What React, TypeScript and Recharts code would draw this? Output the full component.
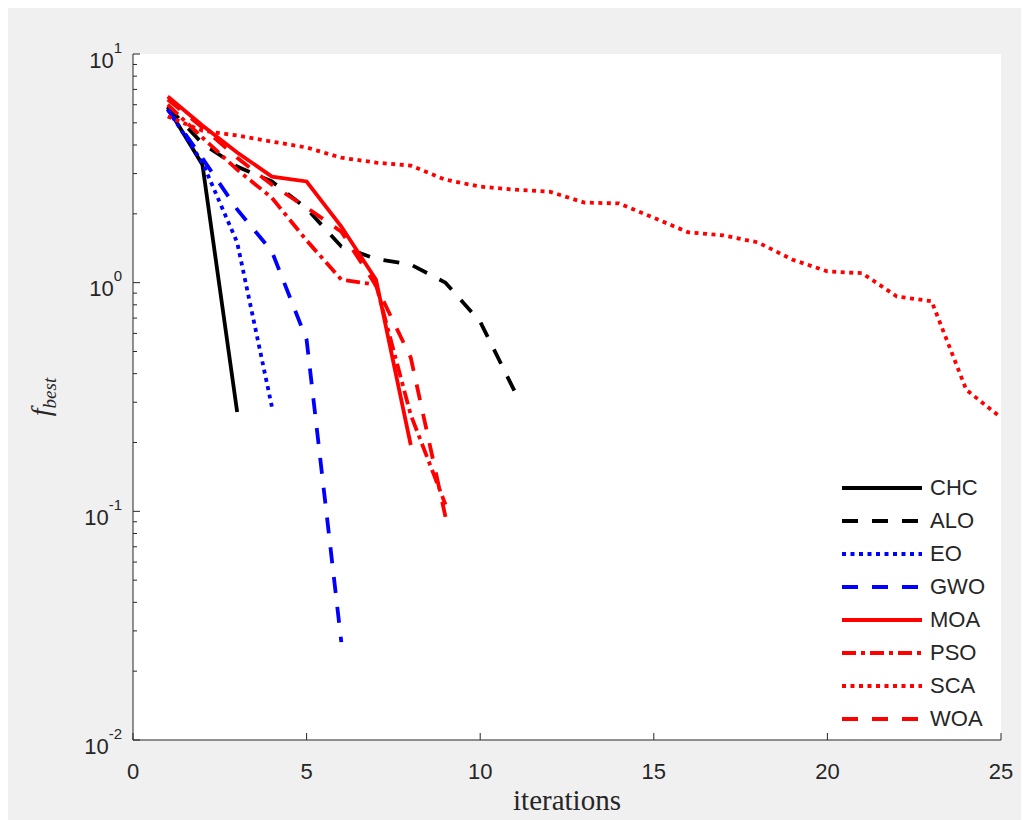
import React from 'react';
import { LineChart, Line, XAxis, YAxis, CartesianGrid, Legend } from 'recharts';

// iteration index (x axis)
const iterations = [1, 2, 3, 4, 5, 6, 7, 8, 9, 10, 11, 12, 13, 14, 15, 16, 17, 18, 19, 20, 21, 22, 23, 24, 25];

// best fitness per iteration
const chc = [5.83, 3.28, 0.272];
const alo = [5.89, 4.06, 3.22, 2.77, 2.11, 1.44, 1.27, 1.2, 1.0, 0.675, 0.333];
const eo = [5.72, 3.35, 1.5, 0.287];
const gwo = [5.72, 3.5, 2.09, 1.37, 0.563, 0.0268];
const moa = [6.52, 4.87, 3.71, 2.91, 2.77, 1.76, 1.03, 0.195];
const pso = [6.0, 4.31, 3.12, 2.35, 1.53, 1.03, 0.98, 0.264, 0.107];
const sca = [5.33, 4.62, 4.4, 4.14, 3.9, 3.52, 3.35, 3.25, 2.82, 2.63, 2.55, 2.5, 2.24, 2.22, 1.92, 1.66, 1.61, 1.5, 1.26, 1.12, 1.1, 0.87, 0.83, 0.34, 0.257];
const woa = [6.32, 4.77, 3.52, 2.68, 2.13, 1.67, 0.97, 0.47, 0.0946];

const xTicks = [0, 5, 10, 15, 20, 25];
const yTicks = [
  0.01, 0.02, 0.03, 0.04, 0.05, 0.06, 0.07, 0.08, 0.09,
  0.1, 0.2, 0.3, 0.4, 0.5, 0.6, 0.7, 0.8, 0.9,
  1, 2, 3, 4, 5, 6, 7, 8, 9,
  10,
];

const RED = '#ff0000';
const BLUE = '#0000ff';
const BLACK = '#000000';
const DASHED = '16 14';
const DOTTED = '4 4.5';
const DASHDOT = '14 5 4 5';

const series = [
  { key: 'CHC', values: chc, color: BLACK, dash: undefined },
  { key: 'ALO', values: alo, color: BLACK, dash: DASHED },
  { key: 'EO', values: eo, color: BLUE, dash: DOTTED },
  { key: 'GWO', values: gwo, color: BLUE, dash: DASHED },
  { key: 'MOA', values: moa, color: RED, dash: undefined },
  { key: 'PSO', values: pso, color: RED, dash: DASHDOT },
  { key: 'SCA', values: sca, color: RED, dash: DOTTED },
  { key: 'WOA', values: woa, color: RED, dash: DASHED },
];

const data = iterations.map((it, i) => {
  const row: any = { x: it };
  series.forEach((s) => {
    if (i < s.values.length) row[s.key] = s.values[i];
  });
  return row;
});

// plot box in chart coordinates
const PLOT_LEFT = 127;
const PLOT_RIGHT = 995;
const PLOT_TOP = 46;
const PLOT_BOTTOM = 732;

const AXIS_COLOR = '#262626';
const SANS = '"Liberation Sans", Arial, Helvetica, sans-serif';
const SERIF = '"Liberation Serif", "Times New Roman", serif';

const isDecade = (v: number) => Math.abs(Math.log10(v) - Math.round(Math.log10(v))) < 1e-6;

const LeftTick = (props: any) => {
  const { y, payload } = props;
  const v = payload.value;
  const major = isDecade(v);
  return (
    <g>
      <line x1={PLOT_LEFT} x2={PLOT_LEFT + (major ? 7 : 4)} y1={y} y2={y} stroke={AXIS_COLOR} />
      {major && (
        <text x={116} y={y + 13.5} textAnchor="end" fontSize={22} fill={AXIS_COLOR} fontFamily={SANS}>
          10
          <tspan dy={-15} fontSize={15}>{Math.round(Math.log10(v))}</tspan>
        </text>
      )}
    </g>
  );
};

const RightTick = (props: any) => {
  const { y, payload } = props;
  const major = isDecade(payload.value);
  return <line x1={PLOT_RIGHT} x2={PLOT_RIGHT - (major ? 7 : 4)} y1={y} y2={y} stroke={AXIS_COLOR} />;
};

const BottomTick = (props: any) => {
  const { x, payload } = props;
  return (
    <g>
      <line x1={x} x2={x} y1={PLOT_BOTTOM} y2={PLOT_BOTTOM - 7} stroke={AXIS_COLOR} />
      <text x={x} y={771} textAnchor="middle" fontSize={22} fill={AXIS_COLOR} fontFamily={SANS}>
        {payload.value}
      </text>
    </g>
  );
};

const TopTick = (props: any) => {
  const { x } = props;
  return <line x1={x} x2={x} y1={PLOT_TOP} y2={PLOT_TOP + 7} stroke={AXIS_COLOR} />;
};

const TitleLabel = (props: any) => {
  const { viewBox } = props;
  return (
    <text x={viewBox.x + viewBox.width / 2} y={32} textAnchor="middle" fontSize={25} fontWeight="bold" fill="#000" fontFamily={SANS}>
      GriewankFcn
    </text>
  );
};

const XLabel = (props: any) => {
  const { viewBox } = props;
  return (
    <text x={viewBox.x + viewBox.width / 2} y={viewBox.y + 70} textAnchor="middle" fontSize={29} fill={AXIS_COLOR} fontFamily={SERIF}>
      iterations
    </text>
  );
};

const YLabel = (props: any) => {
  const { viewBox } = props;
  const cx = viewBox.x + 44;
  const cy = viewBox.y + viewBox.height / 2;
  return (
    <text x={cx} y={cy} transform={`rotate(-90 ${cx} ${cy})`} textAnchor="middle" fontSize={28} fontStyle="italic" fill={AXIS_COLOR} fontFamily={SERIF}>
      f
      <tspan dy={6} fontSize={19}>best</tspan>
    </text>
  );
};

const LegendBox = () => (
  <div style={{ fontFamily: SANS, fontSize: 22, color: AXIS_COLOR }}>
    {series.map((s) => (
      <div key={s.key} style={{ display: 'flex', alignItems: 'center', height: 33 }}>
        <svg width={88} height={10}>
          <line x1={0} x2={80} y1={5} y2={5} stroke={s.color} strokeWidth={4} strokeDasharray={s.dash} />
        </svg>
        <span>{s.key}</span>
      </div>
    ))}
  </div>
);

const App = () => (
  <div style={{ marginLeft: -2, width: 1023, height: 812, background: '#f0f0f0', position: 'relative' }}>
    <LineChart width={1023} height={812} data={data} margin={{ top: 46, right: 28, left: 0, bottom: 0 }}>
      <CartesianGrid horizontal={false} vertical={false} fill="#ffffff" />
      <XAxis
        dataKey="x"
        type="number"
        domain={[0, 25]}
        ticks={xTicks}
        interval={0}
        height={80}
        tickLine={false}
        axisLine={{ stroke: AXIS_COLOR }}
        tick={<BottomTick />}
        label={<XLabel />}
      />
      <XAxis
        xAxisId="top"
        dataKey="x"
        type="number"
        orientation="top"
        domain={[0, 25]}
        ticks={xTicks}
        interval={0}
        height={0}
        tickLine={false}
        axisLine={{ stroke: AXIS_COLOR }}
        tick={<TopTick />}
        label={<TitleLabel />}
      />
      <YAxis
        type="number"
        scale="log"
        domain={[0.01, 10]}
        ticks={yTicks}
        interval={0}
        width={127}
        allowDataOverflow
        tickLine={false}
        axisLine={{ stroke: AXIS_COLOR }}
        tick={<LeftTick />}
        label={<YLabel />}
      />
      <YAxis
        yAxisId="right"
        orientation="right"
        type="number"
        scale="log"
        domain={[0.01, 10]}
        ticks={yTicks}
        interval={0}
        width={0}
        allowDataOverflow
        tickLine={false}
        axisLine={{ stroke: AXIS_COLOR }}
        tick={<RightTick />}
      />
      {series.map((s) => (
        <Line
          key={s.key}
          dataKey={s.key}
          type="linear"
          stroke={s.color}
          strokeWidth={3.8}
          strokeDasharray={s.dash}
          dot={false}
          activeDot={false}
          isAnimationActive={false}
        />
      ))}
      <Legend
        layout="vertical"
        align="center"
        verticalAlign="middle"
        wrapperStyle={{ left: 836, top: 463, width: 180 }}
        content={<LegendBox />}
      />
    </LineChart>
  </div>
);

export default App;
